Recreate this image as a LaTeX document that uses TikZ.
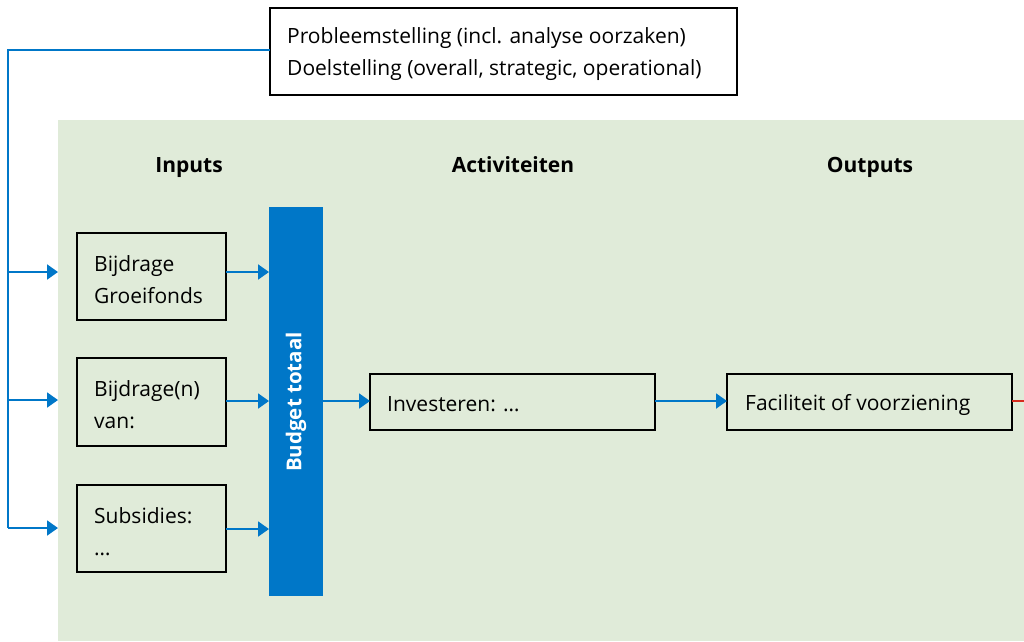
\documentclass[tikz,border=0pt]{standalone}
\usepackage{fontspec}
\setmainfont{Open Sans}
\usetikzlibrary{arrows.meta,positioning}
\definecolor{bgreen}{HTML}{E0EBD9}
\definecolor{rblue}{HTML}{0077C8}
\definecolor{rred}{HTML}{D52B1E}
\begin{document}
\begin{tikzpicture}[x=1pt,y=-1pt,
  box/.style={draw=black,line width=1.4pt,anchor=north west,inner sep=0pt,outer sep=0pt},
  lbl/.style={font=\fontsize{21}{32}\selectfont,align=left,anchor=west,inner sep=0pt},
  head/.style={font=\fontsize{21}{24}\selectfont\bfseries,inner sep=0pt},
  conn/.style={draw=rblue,line width=2pt},
  arr/.style={conn,-{Triangle[length=11pt,width=15pt]}}]
\useasboundingbox (0,0) rectangle (1024,641);
\fill[bgreen] (58,120) rectangle (1024,641);
% top box
\node[box,minimum width=467pt,minimum height=87pt] (top) at (270,8) {};
\node[lbl] (toptxt) at (287,54.5) {Probleemstelling (incl. analyse oorzaken)\\Doelstelling (overall, strategic, operational)};
% headers
\node[head,anchor=base] (h1) at (189,172) {Inputs};
\node[head,anchor=base] (h2) at (513,172) {Activiteiten};
\node[head,anchor=base] (h3) at (870,172) {Outputs};
% input boxes
\node[box,minimum width=149pt,minimum height=87pt] (b1) at (77,233) {};
\node[lbl] (t1) at (94,279.5) {Bijdrage\\Groeifonds};
\node[box,minimum width=149pt,minimum height=88pt] (b2) at (77,358) {};
\node[lbl] (t2) at (94,404.5) {Bijdrage(n)\\van:};
\node[box,minimum width=149pt,minimum height=87pt] (b3) at (77,485) {};
\node[lbl] (t3) at (94,531.5) {Subsidies:\\…};
% budget bar
\node[fill=rblue,anchor=north west,minimum width=54pt,minimum height=389pt,inner sep=0pt,outer sep=0pt] (bar) at (269,207) {};
\node[rotate=90,text=white,head,font=\fontsize{20.5}{24}\selectfont\bfseries] (bt) at (296,402) {Budget totaal};
% activity and output
\node[box,minimum width=285pt,minimum height=56pt] (act) at (370,374) {};
\node[lbl] (at) at (387,404.5) {Investeren: …};
\node[box,minimum width=285pt,minimum height=56pt] (out) at (727,374) {};
\node[lbl] (ot) at (745,404.5) {Faciliteit of voorziening};
% left feedback line
\coordinate (c0) at (8,50);
\coordinate (c1) at (8,272);
\coordinate (c2) at (8,400);
\coordinate (c3) at (8,528);
\coordinate (e1) at (58,272);
\coordinate (e2) at (58,400);
\coordinate (e3) at (58,528);
\draw[conn] (top.west |- c0) -- (c0) -- (c3);
\draw[arr] (c1) -- (e1);
\draw[arr] (c2) -- (e2);
\draw[arr] (c3) -- (e3);
% inputs to bar
\draw[arr] (b1.east |- 0,272) -- (bar.west |- 0,272);
\draw[arr] (b2.east |- 0,401) -- (bar.west |- 0,401);
\draw[arr] (b3.east |- 0,529) -- (bar.west |- 0,529);
\draw[arr] (bar.east |- 0,401) -- (act.west |- 0,401);
\draw[arr] (act.east |- 0,401) -- (out.west |- 0,401);
\draw[draw=rred,line width=2pt] (out.east |- 0,401) -- (1024,401);
\end{tikzpicture}
\end{document}
